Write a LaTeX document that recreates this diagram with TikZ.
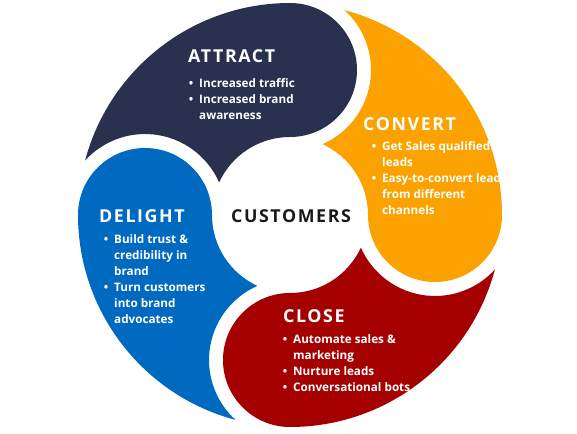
\documentclass[tikz,border=0pt]{standalone}
\usepackage{fontspec}
\setmainfont{Open Sans}
\newfontfamily\ttlfont[LetterSpace=9]{Open Sans}
\definecolor{cnavy}{HTML}{29314F}
\definecolor{corange}{HTML}{FBA200}
\definecolor{cred}{HTML}{A50000}
\definecolor{cblue}{HTML}{0069C0}
\newcommand\cyclepiece[2]{%
  \fill[#2] (#1+90:212)
    arc[start angle=#1+90, end angle=#1-90, radius=67]
    arc[start angle=#1+90, end angle=#1+155.3, radius=78]
    arc[start angle=#1+23.74, end angle=#1+137.66, radius=81]
    arc[start angle=#1+165.09, end angle=#1+90, radius=212] -- cycle;}
\newcommand\bitem{\llap{•\hspace{6pt}}}
\begin{document}
\begin{tikzpicture}[x=1pt,y=1pt,
  ttl/.style={font=\ttlfont\bfseries\fontsize{17.8}{20}\selectfont, text=white, inner sep=0pt, anchor=base west},
  body/.style={font=\bfseries\fontsize{11.7}{16}\selectfont, text=white, inner sep=0pt, anchor=base west}]
\useasboundingbox (-290,-218) rectangle (287,215);
\cyclepiece{0}{cnavy}
\cyclepiece{-90}{corange}
\cyclepiece{-180}{cred}
\cyclepiece{-270}{cblue}
\node[ttl] (attract) at (-102,152.5) {ATTRACT};
\node[body] (attractb) at (-91,127.5) {\begin{tabular}[t]{@{}l@{}}\bitem Increased traffic\\ \bitem Increased brand\\ awareness\end{tabular}};
\node[ttl] (convert) at (73,84.5) {CONVERT};
\node[body] (convertb) at (92,64.5) {\begin{tabular}[t]{@{}l@{}}\bitem Get Sales qualified\\ leads\\ \bitem Easy-to-convert leads\\ from different\\ channels\end{tabular}};
\node[ttl] (delight) at (-191,-7.5) {DELIGHT};
\node[body] (delightb) at (-176,-28.5) {\begin{tabular}[t]{@{}l@{}}\bitem Build trust \&\\ credibility in\\ brand\\ \bitem Turn customers\\ into brand\\ advocates\end{tabular}};
\node[ttl] (close) at (-7,-107.5) {CLOSE};
\node[body] (closeb) at (3,-128.5) {\begin{tabular}[t]{@{}l@{}}\bitem Automate sales \&\\ marketing\\ \bitem Nurture leads\\ \bitem Conversational bots\end{tabular}};
\node[ttl, text=black!90, anchor=base] (customers) at (1,-7.5) {CUSTOMERS};
\end{tikzpicture}
\end{document}
